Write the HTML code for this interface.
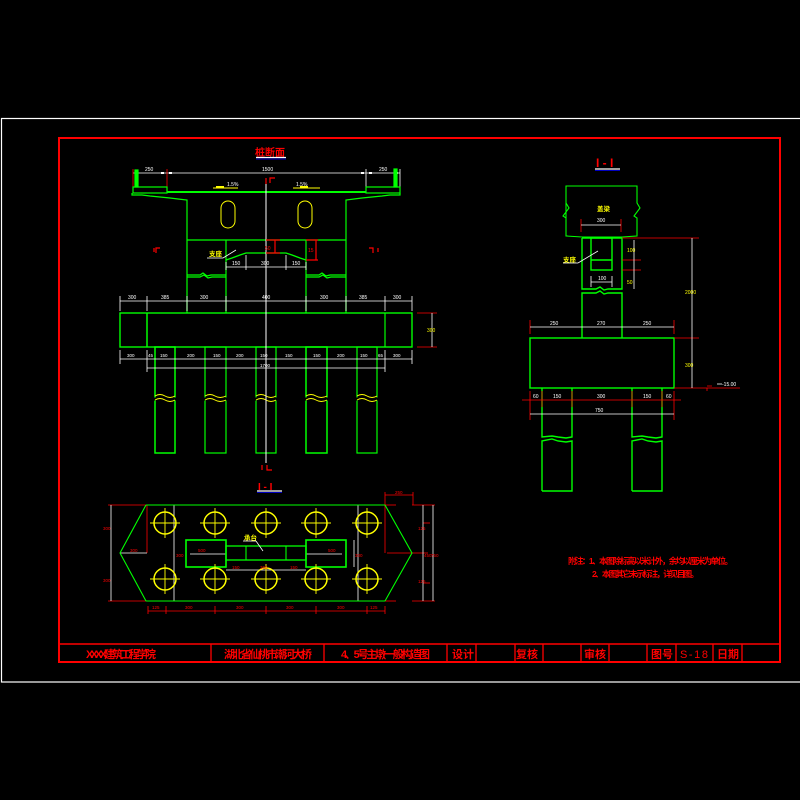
<!DOCTYPE html>
<html><head><meta charset="utf-8"><style>
html,body{margin:0;padding:0;background:#000;width:800px;height:800px;overflow:hidden}
svg{display:block}
text{font-family:"Liberation Sans","Noto Sans CJK SC",sans-serif}
</style></head><body>
<svg width="800" height="800" viewBox="0 0 800 800" xmlns="http://www.w3.org/2000/svg">
<rect width="800" height="800" fill="#000"/>
<!-- frames -->
<rect x="1.5" y="118.5" width="800" height="563.5" fill="none" stroke="#fff" stroke-width="1.2"/>
<rect x="59" y="138" width="721" height="524" fill="none" stroke="#f00" stroke-width="2"/>
<line x1="59" y1="644" x2="780" y2="644" stroke="#f00" stroke-width="1.5"/>
<g stroke="#f00" stroke-width="1.3">
<line x1="211" y1="644" x2="211" y2="662"/><line x1="324" y1="644" x2="324" y2="662"/>
<line x1="447" y1="644" x2="447" y2="662"/><line x1="476" y1="644" x2="476" y2="662"/>
<line x1="515" y1="644" x2="515" y2="662"/><line x1="543" y1="644" x2="543" y2="662"/>
<line x1="581" y1="644" x2="581" y2="662"/><line x1="609" y1="644" x2="609" y2="662"/>
<line x1="647" y1="644" x2="647" y2="662"/><line x1="676" y1="644" x2="676" y2="662"/>
<line x1="713" y1="644" x2="713" y2="662"/><line x1="742" y1="644" x2="742" y2="662"/>
</g>
<g fill="#f00" font-size="11" font-weight="bold">
<text x="86" y="658" textLength="70">XXXX建筑工程学院</text>
<text x="224" y="658" textLength="88">湖北省仙桃市潮河大桥</text>
<text x="341" y="658" textLength="89">4、5号主墩一般构造图</text>
<text x="452" y="658">设计</text>
<text x="516" y="658">复核</text>
<text x="584" y="658">审核</text>
<text x="651" y="658">图号</text>
<text x="680" y="658" textLength="28" font-weight="normal">S-18</text>
<text x="717" y="658">日期</text>
</g>
<!-- notes -->
<g fill="#f00" font-size="8.5" font-weight="bold">
<text x="568" y="564" textLength="165">附注：1、本图除标高以米计外，余均以厘米为单位。</text>
<text x="592" y="577" textLength="107">2、本图其它未示标注，详见目图。</text>
</g>

<!-- ============ Elevation ============ -->
<text x="255" y="156" fill="#f00" font-size="10" font-weight="bold">桩断面</text>
<line x1="256" y1="157.5" x2="286" y2="157.5" stroke="#fff" stroke-width="1.3"/>
<line x1="256" y1="159" x2="286" y2="159" stroke="#00f" stroke-width="0.8"/>
<!-- top dim -->
<g stroke="#fff" stroke-width="0.8">
<line x1="133" y1="173" x2="400" y2="173"/>
<line x1="366" y1="169" x2="366" y2="191"/>
<line x1="400" y1="169" x2="400" y2="191"/>
</g>
<g fill="#fff" font-size="5"><text x="145" y="171">250</text><text x="262" y="171">1500</text><text x="379" y="171">250</text></g>
<g fill="#fff"><rect x="161" y="172" width="3" height="2"/><rect x="169" y="172" width="3" height="2"/><rect x="361" y="172" width="3" height="2"/><rect x="369" y="172" width="3" height="2"/><rect x="135" y="172" width="3" height="2"/><rect x="395" y="172" width="3" height="2"/></g>
<line x1="167" y1="169" x2="167" y2="187" stroke="#f00" stroke-width="0.8"/>
<line x1="133" y1="169" x2="133" y2="187" stroke="#f00" stroke-width="0.8"/>
<!-- deck -->
<g fill="none" stroke="#0f0" stroke-width="1.2">
<rect x="133" y="187" width="34" height="6"/>
<rect x="366" y="187" width="34" height="6"/>
<line x1="167" y1="192" x2="366" y2="192" stroke-width="2"/>
<rect x="135" y="170" width="3" height="17" fill="#0f0"/>
<rect x="394" y="169" width="3" height="18" fill="#0f0"/>
<polyline points="132,193 132,195 142,195 150,196 160,197 170,198 178,199 187,200 187,313"/>
<polyline points="400,193 400,195 390,195 382,196 372,197 362,198 354,199 346,200 346,313"/>
<line x1="187" y1="240" x2="346" y2="240"/>
<line x1="226" y1="240" x2="226" y2="313"/>
<line x1="306" y1="240" x2="306" y2="313"/>
<polyline points="226,260 232,258 240,255 246,253 286,253 292,255 300,258 306,260" stroke-width="1.3"/>
<path d="M187,275 H200 L203,273 L207,276 L211,275 H226 M187,277 H200 L204,275 L208,278 L212,277 H226"/>
<path d="M306,275 H319 L322,273 L326,276 L330,275 H346 M306,277 H319 L323,275 L327,278 L331,277 H346"/>
<!-- footing -->
<rect x="120" y="313" width="292" height="34" stroke-width="1.4"/>
<line x1="147" y1="313" x2="147" y2="347" stroke-width="1.5"/>
<line x1="385" y1="313" x2="385" y2="347"/>
<!-- piles -->
<rect x="155" y="347" width="20" height="106" stroke-width="1.5"/>
<rect x="205" y="347" width="21" height="106"/>
<rect x="256" y="347" width="20" height="106"/>
<rect x="306" y="347" width="21" height="106" stroke-width="1.5"/>
<rect x="357" y="347" width="20" height="106"/>
</g>
<!-- pile breaks -->
<g stroke="#000" stroke-width="3"><line x1="150" y1="399" x2="380" y2="399"/></g>
<g fill="none" stroke="#ff0" stroke-width="0.9">
<path d="M155,396 q5,-3 10,0 t10,0 M155,400 q5,-3 10,0 t10,0"/>
<path d="M205,396 q5,-3 10,0 t11,0 M205,400 q5,-3 10,0 t11,0"/>
<path d="M256,396 q5,-3 10,0 t10,0 M256,400 q5,-3 10,0 t10,0"/>
<path d="M306,396 q5,-3 10,0 t11,0 M306,400 q5,-3 10,0 t11,0"/>
<path d="M357,396 q5,-3 10,0 t10,0 M357,400 q5,-3 10,0 t10,0"/>
</g>
<!-- ovals -->
<rect x="221" y="201" width="14" height="27" rx="7" fill="none" stroke="#ff0" stroke-width="1"/>
<rect x="298" y="201" width="14" height="27" rx="7" fill="none" stroke="#ff0" stroke-width="1"/>
<!-- slope marks -->
<g stroke="#ff0" stroke-width="1"><line x1="213" y1="188" x2="238" y2="188"/><line x1="293" y1="188" x2="320" y2="188"/></g>
<rect x="216" y="186" width="8" height="2" fill="#ff0"/><rect x="300" y="186" width="8" height="2" fill="#ff0"/>
<g fill="#fff" font-size="5"><text x="227" y="186">1.5%</text><text x="296" y="186">1.5%</text></g>
<!-- centerline -->
<line x1="266" y1="180" x2="266" y2="463" stroke="#fff" stroke-width="1"/>
<!-- section marks -->
<g fill="none" stroke="#f00" stroke-width="1.2">
<path d="M266,178 V184 M270,183 V178 H275"/>
<path d="M154,248 V252 M156,253 V248 H160"/>
<path d="M369,248 H373 V253 M378,248 V252"/>
<path d="M262,465 V470 M267,465 V470 H272"/>
<path d="M266,240 H280 M266,253 H280 M275,240 V253"/>
<path d="M306,240 H318 M306,260 H318 M316,240 V260"/>
</g>
<text x="265" y="250" fill="#f00" font-size="5">50</text>
<text x="308" y="252" fill="#f00" font-size="5">15</text>
<!-- bearing label -->
<text x="209" y="256" fill="#ff0" font-size="6.5" font-weight="bold">支座</text>
<line x1="207" y1="258" x2="223" y2="258" stroke="#fff" stroke-width="0.8"/>
<line x1="223" y1="258" x2="236" y2="250" stroke="#fff" stroke-width="0.8"/>
<!-- bump dims -->
<g stroke="#fff" stroke-width="0.8">
<line x1="226" y1="267" x2="306" y2="267"/>
<line x1="246" y1="255" x2="246" y2="270"/><line x1="286" y1="255" x2="286" y2="270"/>
<line x1="226" y1="262" x2="226" y2="270"/><line x1="306" y1="262" x2="306" y2="270"/>
</g>
<g fill="#fff" font-size="5"><text x="232" y="265">150</text><text x="261" y="265">300</text><text x="292" y="265">150</text></g>
<!-- dim row 1 -->
<g stroke="#fff" stroke-width="0.8">
<line x1="120" y1="301" x2="412" y2="301"/>
<line x1="120" y1="296" x2="120" y2="311"/><line x1="147" y1="296" x2="147" y2="311"/>
<line x1="187" y1="296" x2="187" y2="311"/><line x1="226" y1="296" x2="226" y2="311"/>
<line x1="306" y1="296" x2="306" y2="311"/><line x1="346" y1="296" x2="346" y2="311"/>
<line x1="385" y1="296" x2="385" y2="311"/><line x1="412" y1="296" x2="412" y2="311"/>
</g>
<g fill="#fff" font-size="5"><text x="128" y="299">300</text><text x="161" y="299">385</text><text x="200" y="299">300</text><text x="262" y="299">400</text><text x="320" y="299">300</text><text x="359" y="299">385</text><text x="393" y="299">300</text></g>
<!-- dim row 2 -->
<g stroke="#fff" stroke-width="0.8">
<line x1="120" y1="359" x2="412" y2="359"/>
<line x1="147" y1="368" x2="385" y2="368"/>
<line x1="120" y1="350" x2="120" y2="364"/><line x1="412" y1="350" x2="412" y2="364"/>
<line x1="147" y1="350" x2="147" y2="372"/><line x1="385" y1="350" x2="385" y2="372"/>
</g>
<g fill="#fff" font-size="4.5"><text x="127" y="357">300</text><text x="148" y="357">45</text><text x="160" y="357">150</text><text x="187" y="357">200</text><text x="213" y="357">150</text><text x="236" y="357">200</text><text x="260" y="357">150</text><text x="285" y="357">150</text><text x="313" y="357">150</text><text x="337" y="357">200</text><text x="360" y="357">150</text><text x="378" y="357">65</text><text x="393" y="357">300</text><text x="260" y="367">1700</text></g>
<!-- right red dim -->
<g stroke="#f00" stroke-width="0.8"><line x1="417" y1="313" x2="437" y2="313"/><line x1="417" y1="347" x2="437" y2="347"/></g>
<line x1="432" y1="313" x2="432" y2="347" stroke="#fff" stroke-width="0.8"/>
<text x="427" y="332" fill="#ff0" font-size="5">300</text>

<!-- ============ Plan I-I ============ -->
<text x="258" y="490" fill="#f00" font-size="10" font-weight="bold">I - I</text>
<line x1="257" y1="491" x2="282" y2="491" stroke="#fff" stroke-width="1.2"/>
<line x1="257" y1="492.5" x2="282" y2="492.5" stroke="#00f" stroke-width="0.8"/>
<g stroke="#f00" stroke-width="0.8" fill="none">
<line x1="108" y1="505" x2="146" y2="505"/><line x1="108" y1="601" x2="146" y2="601"/>
<line x1="385" y1="505" x2="396" y2="505"/><line x1="385" y1="601" x2="396" y2="601"/>
<line x1="147" y1="505" x2="147" y2="553"/>
<line x1="385" y1="492" x2="385" y2="553"/><line x1="413" y1="492" x2="413" y2="505"/>
<line x1="385" y1="495" x2="413" y2="495"/>
<line x1="412" y1="505" x2="435" y2="505"/><line x1="412" y1="601" x2="435" y2="601"/>
<line x1="412" y1="553" x2="428" y2="553"/><line x1="387" y1="553" x2="412" y2="553"/>
<line x1="148" y1="611" x2="385" y2="611"/>
<line x1="148" y1="606" x2="148" y2="614"/><line x1="166" y1="606" x2="166" y2="614"/>
<line x1="215" y1="606" x2="215" y2="614"/><line x1="266" y1="606" x2="266" y2="614"/>
<line x1="316" y1="606" x2="316" y2="614"/><line x1="367" y1="606" x2="367" y2="614"/>
<line x1="385" y1="606" x2="385" y2="614"/>
<line x1="423" y1="523" x2="430" y2="523"/><line x1="423" y1="583" x2="430" y2="583"/>
</g>
<g stroke="#fff" stroke-width="0.8">
<line x1="111" y1="505" x2="111" y2="601"/>
<line x1="120" y1="553" x2="147" y2="553"/>
<line x1="174" y1="505" x2="174" y2="601"/>
<line x1="358" y1="505" x2="358" y2="601"/>
<line x1="423" y1="505" x2="423" y2="601"/>
<line x1="433" y1="505" x2="433" y2="601"/>
<line x1="354" y1="540" x2="354" y2="567"/>
<line x1="226" y1="570" x2="306" y2="570"/>
<line x1="190" y1="554" x2="226" y2="554"/><line x1="306" y1="554" x2="342" y2="554"/>
</g>
<g fill="none" stroke="#0f0" stroke-width="1.1">
<line x1="146" y1="505" x2="385" y2="505"/><line x1="146" y1="601" x2="385" y2="601"/>
<polyline points="146,505 120,553 146,601"/>
<polyline points="385,505 412,553 385,601"/>
<rect x="186" y="540" width="40" height="27" stroke-width="1.6"/>
<rect x="306" y="540" width="40" height="27" stroke-width="1.6"/>
<rect x="226" y="546" width="80" height="14" stroke-width="1.3"/>
<line x1="246" y1="546" x2="246" y2="560"/><line x1="286" y1="546" x2="286" y2="560"/>
</g>
<g fill="none" stroke="#ff0" stroke-width="1.5">
<circle cx="165" cy="523" r="11"/><circle cx="215" cy="523" r="11"/><circle cx="266" cy="523" r="11"/><circle cx="316" cy="523" r="11"/><circle cx="367" cy="523" r="11"/>
<circle cx="165" cy="579" r="11"/><circle cx="215" cy="579" r="11"/><circle cx="266" cy="579" r="11"/><circle cx="316" cy="579" r="11"/><circle cx="367" cy="579" r="11"/>
</g>
<g stroke="#ff0" stroke-width="0.9">
<path d="M150,523 H180 M165,508 V538 M200,523 H230 M215,508 V538 M251,523 H281 M266,508 V538 M301,523 H331 M316,508 V538 M352,523 H382 M367,508 V538"/>
<path d="M150,579 H180 M165,564 V594 M200,579 H230 M215,564 V594 M251,579 H281 M266,564 V594 M301,579 H331 M316,564 V594 M352,579 H382 M367,564 V594"/>
</g>
<text x="244" y="540" fill="#ff0" font-size="6.5" font-weight="bold">承台</text>
<line x1="243" y1="541" x2="256" y2="541" stroke="#fff" stroke-width="0.8"/>
<line x1="256" y1="541" x2="263" y2="551" stroke="#fff" stroke-width="0.8"/>
<g fill="#f00" font-size="4.5"><text x="103" y="530">300</text><text x="103" y="582">300</text><text x="130" y="552">300</text><text x="198" y="552">500</text><text x="328" y="552">500</text><text x="232" y="569">150</text><text x="260" y="569">300</text><text x="290" y="569">150</text><text x="152" y="609">125</text><text x="185" y="609">300</text><text x="236" y="609">300</text><text x="286" y="609">300</text><text x="337" y="609">300</text><text x="370" y="609">125</text><text x="395" y="494">250</text><text x="418" y="530">125</text><text x="418" y="583">125</text><text x="424" y="557">450</text><text x="431" y="557">750</text><text x="355" y="557">300</text><text x="176" y="557">300</text></g>

<!-- ============ Section I-I right ============ -->
<text x="596" y="167" fill="#f00" font-size="12" font-weight="bold">I - I</text>
<line x1="595" y1="169" x2="620" y2="169" stroke="#fff" stroke-width="1.2"/>
<line x1="595" y1="170.5" x2="620" y2="170.5" stroke="#00f" stroke-width="0.8"/>
<g fill="none" stroke="#0f0" stroke-width="1.1">
<polyline points="568,236 566,236 566,203 569,208 563,216 566,218 566,186 637,186 637,203 640,208 634,216 637,218 637,236 622,237 582,237 566,236"/>
<line x1="582" y1="238" x2="622" y2="238" stroke-width="1.5"/>
<polyline points="582,238 582,289 596,289 600,287 604,290 608,289 622,289 622,238" stroke-width="1.4"/>
<rect x="591" y="238" width="21" height="32" stroke-width="1.4"/>
<line x1="591" y1="260" x2="612" y2="260" stroke-width="1.4"/>
<polyline points="582,338 582,293 596,293 600,291 604,294 608,293 622,293 622,338" stroke-width="1.4"/>
<rect x="530" y="338" width="144" height="50" stroke-width="1.4"/>
<polyline points="542,388 542,437 552,436 558,437 566,438 572,437 572,388" stroke-width="1.4"/>
<polyline points="542,491 542,441 552,439 558,441 566,442 572,441 572,491 542,491" stroke-width="1.4"/>
<polyline points="632,388 632,437 642,436 648,437 656,438 662,437 662,388" stroke-width="1.4"/>
<polyline points="632,491 632,441 642,439 648,441 656,442 662,441 662,491 632,491" stroke-width="1.4"/>
</g>
<text x="597" y="211" fill="#ff0" font-size="6.5" font-weight="bold">盖梁</text>
<text x="563" y="262" fill="#ff0" font-size="6.5" font-weight="bold">支座</text>
<line x1="563" y1="263" x2="578" y2="263" stroke="#fff" stroke-width="0.8"/>
<line x1="578" y1="263" x2="598" y2="251" stroke="#fff" stroke-width="0.8"/>
<g stroke="#f00" stroke-width="0.8">
<line x1="622" y1="238" x2="699" y2="238"/><line x1="622" y1="260" x2="641" y2="260"/><line x1="622" y1="270" x2="641" y2="270"/>
<line x1="674" y1="338" x2="699" y2="338"/><line x1="674" y1="388" x2="740" y2="388"/>
<line x1="522" y1="400" x2="681" y2="400"/>
<line x1="530" y1="391" x2="530" y2="420"/><line x1="674" y1="391" x2="674" y2="420"/>
<line x1="542" y1="391" x2="542" y2="407"/><line x1="572" y1="391" x2="572" y2="407"/>
<line x1="632" y1="391" x2="632" y2="407"/><line x1="662" y1="391" x2="662" y2="407"/>
<line x1="530" y1="320" x2="530" y2="334"/><line x1="674" y1="320" x2="674" y2="334"/>
<line x1="581" y1="219" x2="581" y2="232"/><line x1="621" y1="219" x2="621" y2="232"/>
<path d="M707,388 V391 M707,386 H712"/>
</g>
<g stroke="#fff" stroke-width="0.8">
<line x1="581" y1="225" x2="621" y2="225"/>
<line x1="591" y1="282" x2="612" y2="282"/><line x1="591" y1="276" x2="591" y2="287"/><line x1="612" y1="276" x2="612" y2="287"/>
<line x1="634" y1="240" x2="634" y2="289"/>
<line x1="692" y1="238" x2="692" y2="388"/>
<line x1="530" y1="327" x2="674" y2="327"/>
<line x1="530" y1="414" x2="674" y2="414"/>
<line x1="717" y1="384" x2="722" y2="384"/>
</g>
<g fill="#fff" font-size="5"><text x="597" y="222">300</text><text x="598" y="280">100</text><text x="550" y="325">250</text><text x="597" y="325">270</text><text x="643" y="325">250</text><text x="533" y="398">60</text><text x="553" y="398">150</text><text x="597" y="398">300</text><text x="643" y="398">150</text><text x="666" y="398">60</text><text x="595" y="412">750</text><text x="722" y="386">-15.00</text></g>
<g fill="#ff0" font-size="5"><text x="627" y="252">100</text><text x="627" y="284">50</text><text x="685" y="294">2000</text><text x="685" y="367">300</text></g>
</svg>
</body></html>
